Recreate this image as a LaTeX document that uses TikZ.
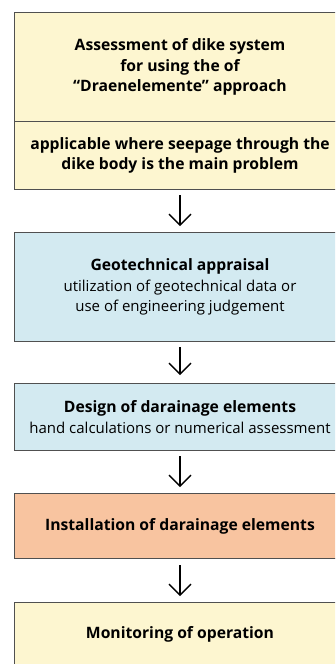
\documentclass[tikz,border=0pt]{standalone}
\usepackage{fontspec}
\setmainfont{Open Sans}
\usetikzlibrary{arrows.meta}
\definecolor{boxyellow}{HTML}{FDF6D0}
\definecolor{boxblue}{HTML}{D3EAF1}
\definecolor{boxorange}{HTML}{F8C4A0}
\definecolor{boxline}{HTML}{505050}
\newcommand{\hd}[1]{{\fontsize{15.7}{20.8}\selectfont\bfseries #1}}
\begin{document}
\begin{tikzpicture}[x=1pt,y=-1pt,
  box/.style={draw=boxline, line width=1pt, rectangle, minimum width=332pt, inner sep=0pt,
    align=center, font=\fontsize{15}{20.8}\selectfont, anchor=north},
  flow/.style={-{Straight Barb[length=11pt,width=22pt,line width=1.3pt]}, line width=1.3pt, black}]
\useasboundingbox (0,0) rectangle (335,664);
\clip (0,0) rectangle (335,664);
\node[box, fill=boxyellow, minimum height=109pt] (a1) at (180,12)
  {\hd{Assessment of dike system}\\\hd{for using the of}\\\hd{“Draenelemente” approach}};
\node[box, fill=boxyellow, minimum height=68pt] (a2) at (180,121)
  {\hd{applicable where seepage through the}\\\hd{dike body is the main problem}};
\node[box, fill=boxblue, minimum height=109pt] (b) at (180,232)
  {\hd{Geotechnical appraisal}\\utilization of geotechnical data or\\use of engineering judgement};
\node[box, fill=boxblue, minimum height=67pt] (c) at (180,383)
  {\hd{Design of darainage elements}\\hand calculations or numerical assessment};
\node[box, fill=boxorange, minimum height=65pt] (d) at (180,493)
  {\hd{Installation of darainage elements}};
\node[box, fill=boxyellow, minimum height=64pt] (e) at (180,602)
  {\hd{Monitoring of operation}};
\draw[flow] ([yshift=-5pt]a2.south) -- ([yshift=6pt]b.north);
\draw[flow] ([yshift=-5pt]b.south) -- ([yshift=8pt]c.north);
\draw[flow] ([yshift=-5pt]c.south) -- ([yshift=6pt]d.north);
\draw[flow] ([yshift=-6pt]d.south) -- ([yshift=6pt]e.north);
\end{tikzpicture}
\end{document}
